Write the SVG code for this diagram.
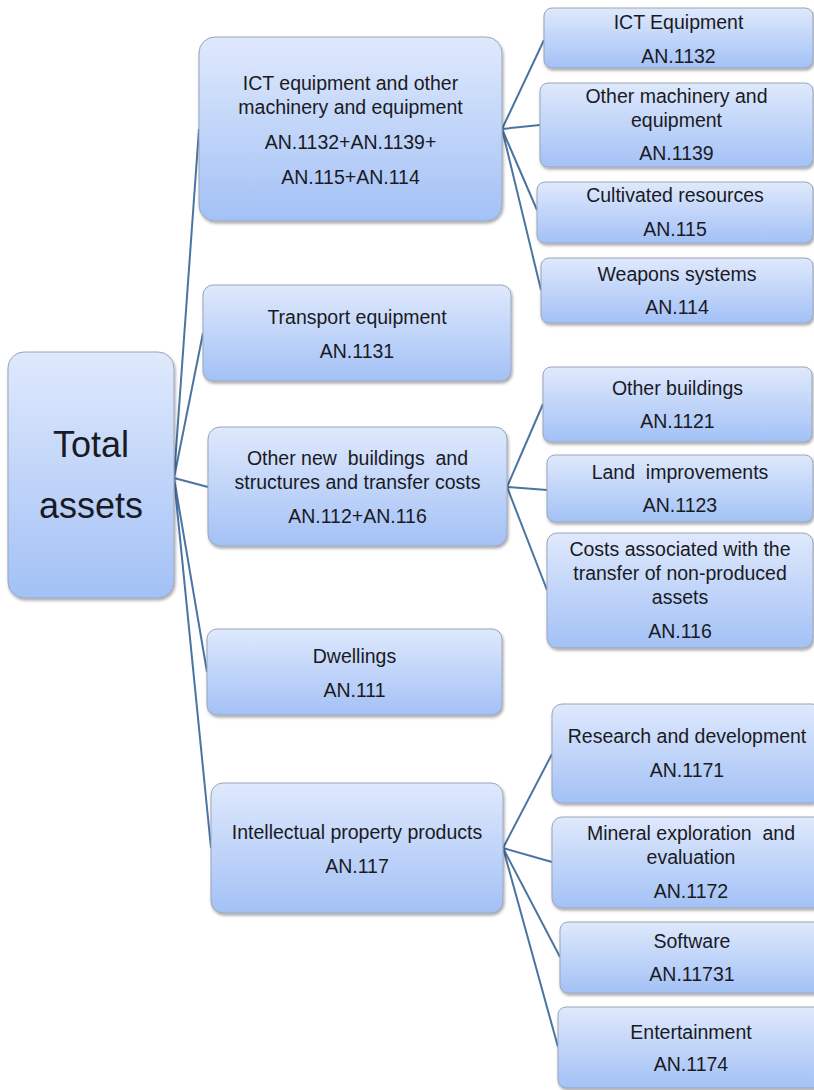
<svg xmlns="http://www.w3.org/2000/svg" width="814" height="1090" viewBox="0 0 814 1090">
<defs>
<linearGradient id="g" x1="0" y1="0" x2="0" y2="1">
<stop offset="0" stop-color="#dfe9fc"/>
<stop offset="1" stop-color="#a3c1f6"/>
</linearGradient>
<filter id="sh" x="-10%" y="-10%" width="120%" height="130%">
<feDropShadow dx="1" dy="2" stdDeviation="1.5" flood-color="#000" flood-opacity="0.35"/>
</filter>
<style>
.box{fill:url(#g);stroke:#9aa6ba;stroke-width:1;filter:url(#sh)}
.t{font-family:"Liberation Sans",Arial,sans-serif;font-size:19.5px;fill:#1a1a24;text-anchor:middle}
.big{font-size:36px}
.c{stroke:#4b74a3;stroke-width:2;fill:none}
</style>
</defs>
<rect width="814" height="1090" fill="#fff"/>
<g id="connectors">
<path class="c" d="M174 478L199 129M174 478L203 333M174 478L208 487M174 478L207 672M174 478L211 848"/>
<path class="c" d="M502 129L544 40M502 129L540 125M502 129L537 210M502 129L541 290"/>
<path class="c" d="M507 487L543 404M507 487L547 490M507 487L547 590"/>
<path class="c" d="M503 848L552 754M503 848L552 862M503 848L560 957M503 848L558 1047"/>
</g>
<g id="root">
<rect class="box" x="8" y="352" width="166" height="246" rx="16"/>
<text class="t big" x="91" y="457">Total</text>
<text class="t big" x="91" y="518">assets</text>
</g>
<g id="ict">
<rect class="box" x="199" y="37" width="303" height="184" rx="16"/>
<text class="t" x="350.5" y="90">ICT equipment and other</text>
<text class="t" x="350.5" y="114">machinery and equipment</text>
<text class="t" x="350.5" y="149">AN.1132+AN.1139+</text>
<text class="t" x="350.5" y="184">AN.115+AN.114</text>
</g>
<g id="transport">
<rect class="box" x="203" y="285" width="308" height="96" rx="10"/>
<text class="t" x="357" y="324">Transport equipment</text>
<text class="t" x="357" y="358">AN.1131</text>
</g>
<g id="buildings">
<rect class="box" x="208" y="427" width="299" height="119" rx="12"/>
<text class="t" x="357.5" y="465" xml:space="preserve">Other new  buildings  and</text>
<text class="t" x="357.5" y="489">structures and transfer costs</text>
<text class="t" x="357.5" y="523">AN.112+AN.116</text>
</g>
<g id="dwellings">
<rect class="box" x="207" y="629" width="295" height="86" rx="10"/>
<text class="t" x="354.5" y="663">Dwellings</text>
<text class="t" x="354.5" y="697">AN.111</text>
</g>
<g id="ipp">
<rect class="box" x="211" y="783" width="292" height="130" rx="12"/>
<text class="t" x="357" y="839">Intellectual property products</text>
<text class="t" x="357" y="873">AN.117</text>
</g>
<g id="ict-equipment">
<rect class="box" x="544" y="8" width="269" height="60" rx="8"/>
<text class="t" x="678.5" y="29">ICT Equipment</text>
<text class="t" x="678.5" y="63">AN.1132</text>
</g>
<g id="other-machinery">
<rect class="box" x="540" y="83" width="273" height="84" rx="8"/>
<text class="t" x="676.5" y="103">Other machinery and</text>
<text class="t" x="676.5" y="127">equipment</text>
<text class="t" x="676.5" y="160">AN.1139</text>
</g>
<g id="cultivated">
<rect class="box" x="537" y="182" width="276" height="61" rx="8"/>
<text class="t" x="675" y="202">Cultivated resources</text>
<text class="t" x="675" y="236">AN.115</text>
</g>
<g id="weapons">
<rect class="box" x="541" y="258" width="272" height="65" rx="8"/>
<text class="t" x="677" y="281">Weapons systems</text>
<text class="t" x="677" y="314">AN.114</text>
</g>
<g id="other-buildings">
<rect class="box" x="543" y="367" width="269" height="75" rx="8"/>
<text class="t" x="677.5" y="395">Other buildings</text>
<text class="t" x="677.5" y="428">AN.1121</text>
</g>
<g id="land">
<rect class="box" x="547" y="455" width="266" height="67" rx="8"/>
<text class="t" x="680" y="479" xml:space="preserve">Land  improvements</text>
<text class="t" x="680" y="512">AN.1123</text>
</g>
<g id="costs">
<rect class="box" x="547" y="533" width="266" height="115" rx="10"/>
<text class="t" x="680" y="556">Costs associated with the</text>
<text class="t" x="680" y="580">transfer of non-produced</text>
<text class="t" x="680" y="604">assets</text>
<text class="t" x="680" y="638">AN.116</text>
</g>
<g id="research">
<rect class="box" x="552" y="704" width="270" height="99" rx="10"/>
<text class="t" x="687" y="743">Research and development</text>
<text class="t" x="687" y="777">AN.1171</text>
</g>
<g id="mineral">
<rect class="box" x="552" y="817" width="278" height="91" rx="10"/>
<text class="t" x="691" y="840" xml:space="preserve">Mineral exploration  and</text>
<text class="t" x="691" y="864">evaluation</text>
<text class="t" x="691" y="898">AN.1172</text>
</g>
<g id="software">
<rect class="box" x="560" y="922" width="270" height="71" rx="8"/>
<text class="t" x="692" y="948">Software</text>
<text class="t" x="692" y="981">AN.11731</text>
</g>
<g id="entertainment">
<rect class="box" x="558" y="1007" width="272" height="81" rx="8"/>
<text class="t" x="691" y="1039">Entertainment</text>
<text class="t" x="691" y="1071">AN.1174</text>
</g>
</svg>
